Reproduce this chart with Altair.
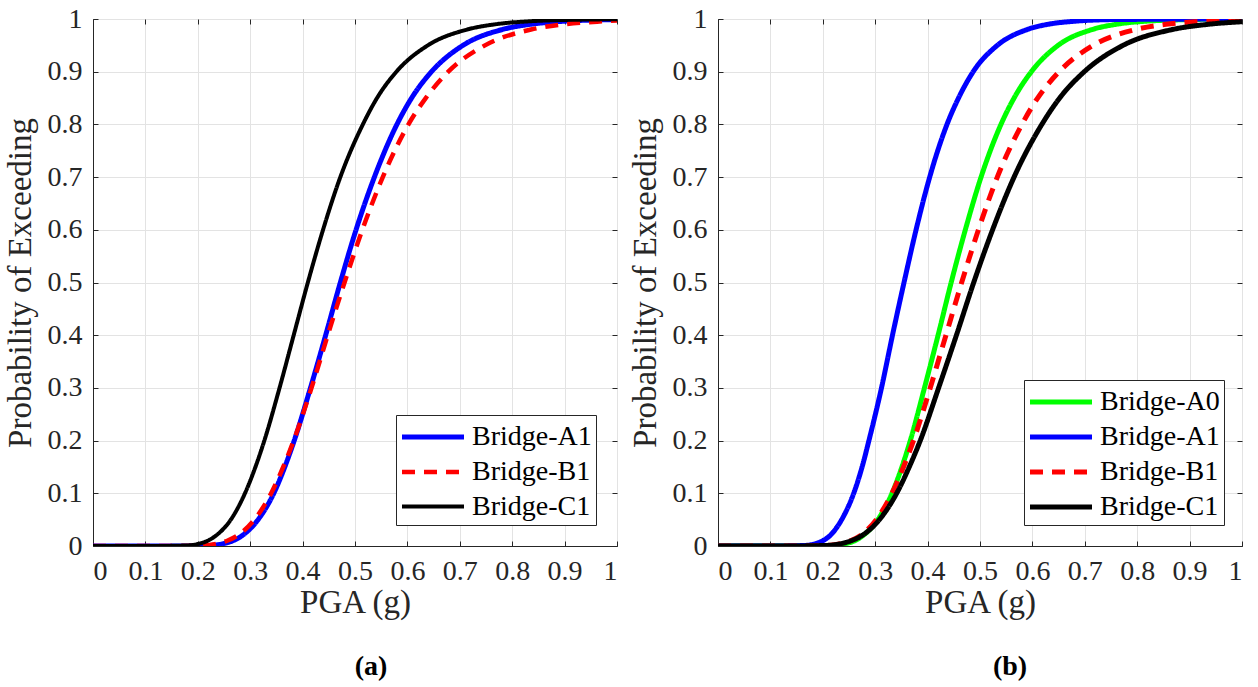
import altair as alt
import pandas as pd

FONT = "Liberation Serif"

# ---------------- Panel (a) ----------------
a_A1_x = [0, 0.15, 0.221, 0.251, 0.267, 0.285, 0.315, 0.345, 0.366, 0.384, 0.415, 0.444, 0.472, 0.502, 0.537, 0.580, 0.608, 0.646, 0.706, 0.781, 0.835, 0.887, 1.0]
a_A1_p = [0, 0, 0.001, 0.005, 0.01, 0.02, 0.05, 0.1, 0.15, 0.2, 0.3, 0.4, 0.5, 0.6, 0.7, 0.8, 0.85, 0.9, 0.95, 0.98, 0.99, 0.995, 0.999]

a_B1_x = [0, 0.14, 0.209, 0.239, 0.256, 0.276, 0.308, 0.340, 0.363, 0.383, 0.417, 0.448, 0.480, 0.514, 0.553, 0.602, 0.635, 0.678, 0.748, 0.836, 0.900, 0.962, 1.0]
a_B1_p = [0, 0, 0.001, 0.005, 0.01, 0.02, 0.05, 0.1, 0.15, 0.2, 0.3, 0.4, 0.5, 0.6, 0.7, 0.8, 0.85, 0.9, 0.95, 0.98, 0.99, 0.995, 0.997]

a_C1_x = [0, 0.12, 0.178, 0.205, 0.219, 0.235, 0.263, 0.290, 0.310, 0.327, 0.356, 0.383, 0.410, 0.439, 0.472, 0.515, 0.542, 0.579, 0.639, 0.714, 0.768, 0.822, 0.944, 1.0]
a_C1_p = [0, 0, 0.001, 0.005, 0.01, 0.02, 0.05, 0.1, 0.15, 0.2, 0.3, 0.4, 0.5, 0.6, 0.7, 0.8, 0.85, 0.9, 0.95, 0.98, 0.99, 0.995, 0.999, 0.9995]

# ---------------- Panel (b) ----------------
b_A0_x = [0, 0.14, 0.218, 0.246, 0.261, 0.277, 0.305, 0.332, 0.351, 0.367, 0.394, 0.420, 0.445, 0.472, 0.502, 0.540, 0.565, 0.598, 0.649, 0.714, 0.760, 0.805, 0.906, 1.0]
b_A0_p = [0, 0, 0.001, 0.005, 0.01, 0.02, 0.05, 0.1, 0.15, 0.2, 0.3, 0.4, 0.5, 0.6, 0.7, 0.8, 0.85, 0.9, 0.95, 0.98, 0.99, 0.995, 0.999, 1.0]

b_A1_x = [0, 0.1, 0.165, 0.188, 0.200, 0.214, 0.236, 0.259, 0.275, 0.288, 0.312, 0.333, 0.355, 0.378, 0.404, 0.437, 0.459, 0.487, 0.533, 0.590, 0.630, 0.671, 0.761, 1.0]
b_A1_p = [0, 0, 0.001, 0.005, 0.01, 0.02, 0.05, 0.1, 0.15, 0.2, 0.3, 0.4, 0.5, 0.6, 0.7, 0.8, 0.85, 0.9, 0.95, 0.98, 0.99, 0.995, 0.999, 1.0]

b_B1_x = [0, 0.14, 0.207, 0.237, 0.253, 0.272, 0.302, 0.332, 0.354, 0.373, 0.405, 0.435, 0.465, 0.497, 0.533, 0.580, 0.610, 0.651, 0.716, 0.797, 0.855, 0.913, 1.0]
b_B1_p = [0, 0, 0.001, 0.005, 0.01, 0.02, 0.05, 0.1, 0.15, 0.2, 0.3, 0.4, 0.5, 0.6, 0.7, 0.8, 0.85, 0.9, 0.95, 0.98, 0.99, 0.995, 0.998]

b_C1_x = [0, 0.13, 0.205, 0.237, 0.254, 0.275, 0.308, 0.341, 0.365, 0.386, 0.421, 0.455, 0.488, 0.524, 0.565, 0.618, 0.652, 0.699, 0.773, 0.867, 0.936, 1.0]
b_C1_p = [0, 0, 0.001, 0.005, 0.01, 0.02, 0.05, 0.1, 0.15, 0.2, 0.3, 0.4, 0.5, 0.6, 0.7, 0.8, 0.85, 0.9, 0.95, 0.98, 0.99, 0.9948]

y_ticks = [0, 0.1, 0.2, 0.3, 0.4, 0.5, 0.6, 0.7, 0.8, 0.9, 1]
x_ticks = [0, 0.1, 0.2, 0.3, 0.4, 0.5, 0.6, 0.7, 0.8, 0.9, 1]

COLORS = {"Bridge-A0": "#00FF00", "Bridge-A1": "#0000FF", "Bridge-B1": "#FF0000", "Bridge-C1": "#000000"}
WIDTHS = {"Bridge-A0": 5, "Bridge-A1": 5, "Bridge-B1": 4, "Bridge-C1": 3}
DASHES = {"Bridge-A0": [1, 0], "Bridge-A1": [1, 0], "Bridge-B1": [13, 9], "Bridge-C1": [1, 0]}

W, H = 524, 527


def frame(series):
    rows = []
    for order, (name, xs, ps) in enumerate(series):
        for x, p in zip(xs, ps):
            rows.append({"series": name, "pga": x, "p": p, "order": order})
    return pd.DataFrame(rows)


def tick_axis(orient, offset):
    # tick-only axis moved to the opposite edge so that ticks point inward
    return alt.Axis(orient=orient, offset=offset, values=x_ticks, labels=False, domain=False,
                    grid=False, ticks=True, tickSize=5, tickColor="#262626", tickWidth=1, title=None)


def panel(series, sub, lx, ly, dx):
    df = frame(series)
    names = [s[0] for s in series]
    legend = alt.Legend(
        title=None, orient="none", legendX=lx, legendY=ly,
        symbolType="M-2,0H2", symbolSize=961, symbolOffset=15, labelOffset=21,
        labelFont=FONT, labelFontSize=28, labelColor="#000000", labelLimit=0,
        padding=4, rowPadding=3, strokeColor="#262626", fillColor="#FFFFFF",
        cornerRadius=0,
    )
    xs = alt.Scale(domain=[0, 1], nice=False)
    ys = alt.Scale(domain=[0, 1], nice=False)
    lines = alt.Chart(df).mark_line(interpolate="monotone", clip=True).encode(
        x=alt.X("pga:Q", scale=xs, axis=alt.Axis(title="PGA (g)", values=x_ticks, format="~g")),
        y=alt.Y("p:Q", scale=ys, axis=alt.Axis(title="Probability of Exceeding", values=y_ticks, format="~g")),
        color=alt.Color("series:N", scale=alt.Scale(domain=names, range=[COLORS[n] for n in names]), legend=legend),
        strokeWidth=alt.StrokeWidth("series:N", scale=alt.Scale(domain=names, range=[WIDTHS[n] for n in names]), legend=legend),
        strokeDash=alt.StrokeDash("series:N", scale=alt.Scale(domain=names, range=[DASHES[n] for n in names]), legend=legend),
        order="order:Q",
    )
    ticks1 = alt.Chart(df).mark_point(opacity=0, size=1).encode(
        x=alt.X("pga:Q", scale=xs, axis=tick_axis("top", -H)),
        y=alt.Y("p:Q", scale=ys, axis=tick_axis("right", -W)),
    )
    ticks2 = alt.Chart(df).mark_point(opacity=0, size=1).encode(
        x=alt.X("pga:Q", scale=xs, axis=tick_axis("bottom", -H)),
        y=alt.Y("p:Q", scale=ys, axis=tick_axis("left", -W)),
    )
    return alt.layer(lines, ticks1, ticks2).resolve_axis(x="independent", y="independent").properties(
        width=W, height=H,
        title=alt.TitleParams(text=sub, orient="bottom", font=FONT, fontSize=28, fontWeight="bold",
                              color="#000000", anchor="middle", offset=34, dx=dx),
    )


left = panel([("Bridge-A1", a_A1_x, a_A1_p), ("Bridge-B1", a_B1_x, a_B1_p), ("Bridge-C1", a_C1_x, a_C1_p)],
             "(a)", 303, 396, 16)
right = panel([("Bridge-A0", b_A0_x, b_A0_p), ("Bridge-A1", b_A1_x, b_A1_p),
               ("Bridge-B1", b_B1_x, b_B1_p), ("Bridge-C1", b_C1_x, b_C1_p)],
              "(b)", 306, 361, 30)

chart = alt.hconcat(left, right, spacing=10).resolve_scale(
    color="independent", strokeWidth="independent", strokeDash="independent"
).properties(
    padding={"left": 3, "top": 4, "right": 5, "bottom": 5},
    background="white",
).configure_view(
    stroke="#262626", strokeWidth=1
).configure_axis(
    labelFont=FONT, labelFontSize=28, labelColor="#262626",
    titleFont=FONT, titleFontSize=33, titleColor="#262626", titleFontWeight="normal",
    gridColor="#e3e3e3", gridWidth=1,
    domainColor="#262626", tickSize=0, labelPadding=11,
).configure_axisX(titlePadding=1).configure_axisY(titlePadding=10)

chart.save("out.html", embed_options={"renderer": "svg", "actions": False})
